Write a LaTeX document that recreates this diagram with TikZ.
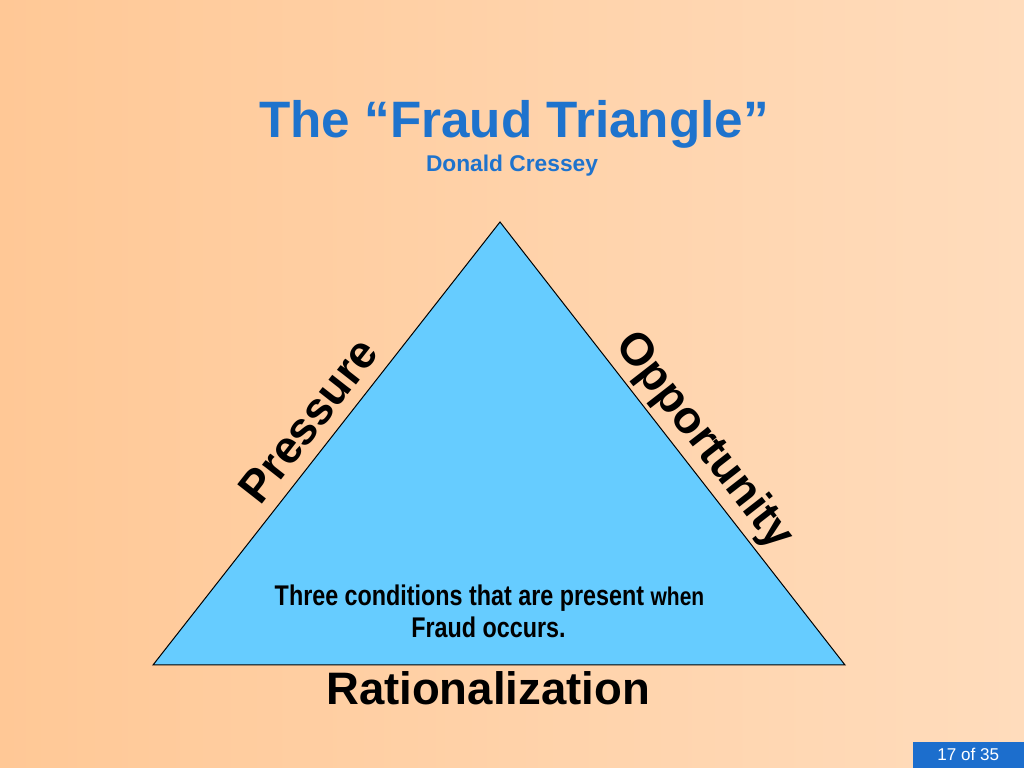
\documentclass[tikz,border=0pt]{standalone}
\usepackage{fontspec}
\setmainfont{Liberation Sans}
\usetikzlibrary{positioning}

\definecolor{bgleft}{RGB}{255,200,150}
\definecolor{bgright}{RGB}{255,220,188}
\definecolor{titleblue}{RGB}{30,115,205}
\definecolor{triblue}{RGB}{102,204,255}
\definecolor{pageblue}{RGB}{28,110,205}

\begin{document}
\begin{tikzpicture}[x=0.703125pt,y=0.703125pt,
	side/.style={anchor=base,inner sep=0pt,font=\fontsize{32}{38}\selectfont\bfseries},
	cond/.style={anchor=base,inner sep=0pt,xscale=0.82,font=\fontsize{20}{24}\selectfont\bfseries}]
	  \fill[left color=bgleft,right color=bgright] (0,0) rectangle (1024,768);
	  \useasboundingbox (0,0) rectangle (1024,768);
	  % the triangle
	  \coordinate (top) at (500,546);
	  \coordinate (bl) at (153,103);
	  \coordinate (br) at (845,103);
	  \draw[fill=triblue,line width=0.7pt] (bl) -- (top) -- (br) -- cycle;
	  % titles
	  \node (title) [anchor=base,inner sep=0pt,text=titleblue,font=\fontsize{36}{43}\selectfont\bfseries] at (514,630) {The “Fraud Triangle”};
	  \node (author) [anchor=base,inner sep=0pt,text=titleblue,font=\fontsize{16}{19}\selectfont\bfseries] at (512,596) {Donald Cressey};
	  % sides
	  \node (pressure) [side,rotate=51.9] at (320.5,337.9) {Pressure};
	  \node (opportunity) [side,rotate=-52.1] at (694.0,319.6) {Opportunity};
	  \node (rational) [side] at (488,63) {Rationalization};
	  \node (cond1) [cond] at (489.5,162) {Three conditions that are present {\fontsize{18}{22}\selectfont when}};
	  \node (cond2) [cond] at (488.5,130) {Fraud occurs.};
	  % page number
	  \node (pagenum) [anchor=south east,fill=pageblue,text=white,inner sep=0pt,minimum width=78pt,minimum height=18.3pt,font=\fontsize{12}{14}\selectfont] at (1024,0) {17 of 35};
	\end{tikzpicture}
\end{document}
